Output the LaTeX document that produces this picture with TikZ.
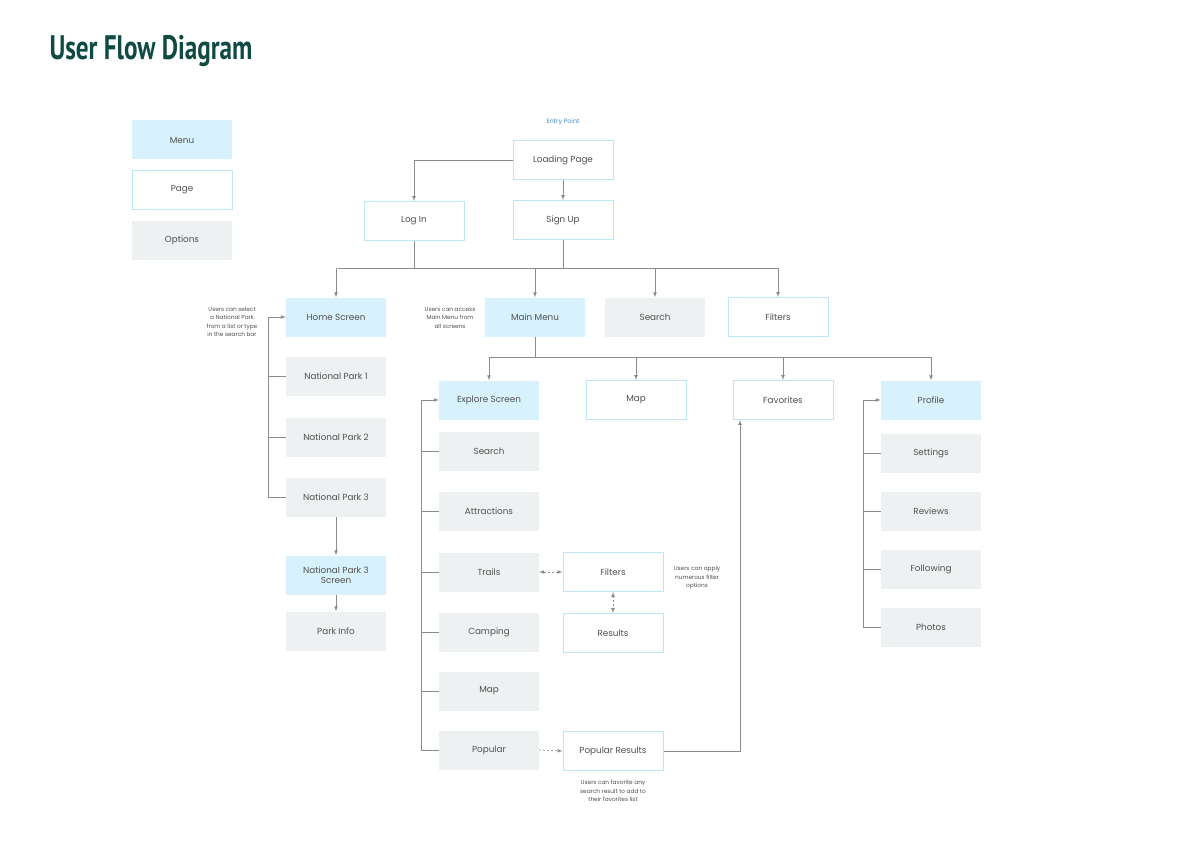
\documentclass[tikz,border=0pt]{standalone}
\usepackage{fontspec}
\setmainfont{Poppins}
\newfontfamily\titlefont{PT Sans}
\usetikzlibrary{arrows}
\definecolor{menublue}{HTML}{D7F2FC}
\definecolor{pageline}{HTML}{BDE5F6}
\definecolor{optgray}{HTML}{EEF1F2}
\definecolor{linkgray}{HTML}{8C8C8C}
\definecolor{titleteal}{HTML}{0F4A43}
\definecolor{entryblue}{HTML}{3A8CC4}
\definecolor{txtgray}{HTML}{505050}

\begin{document}
\begin{tikzpicture}[x=1pt,y=-1pt,
    box/.style={minimum width=100pt,minimum height=39pt,inner sep=1pt,text=txtgray,
      font=\fontsize{8.8}{10.5}\selectfont,align=center},
    menubox/.style={box,fill=menublue},
    pagebox/.style={box,fill=white,draw=pageline,line width=1pt},
    optbox/.style={box,fill=optgray},
    note/.style={text=txtgray,font=\fontsize{5.8}{8.4}\selectfont,align=center},
    link/.style={draw=linkgray,line width=0.7pt},
    arr/.style={link,-latex},
    dasharr/.style={link,dash pattern=on 2pt off 2pt,-latex},
    dashboth/.style={link,dash pattern=on 2pt off 2pt,latex-latex}]
  \useasboundingbox[fill=white] (0,0) rectangle (1200,856);
  %% title and legend
  \node[anchor=west,text=titleteal,font=\titlefont\bfseries\fontsize{34}{36}\selectfont] (title) at (46,51) {\scalebox{0.74}[1]{User Flow Diagram}};
  \node[menubox] (lgmenu) at (182,140) {Menu};
  \node[pagebox] (lgpage) at (182,190) {Page};
  \node[optbox]  (lgopt)  at (182,240) {Options};
  %% entry
  \node[text=entryblue,font=\fontsize{6.3}{7}\selectfont] (entry) at (563,122) {Entry Point};
  \node[pagebox] (load)   at (563,160) {Loading Page};
  \node[pagebox] (login)  at (414,221) {Log In};
  \node[pagebox] (signup) at (563,220) {Sign Up};
  %% first level
  \node[menubox] (home)     at (336,317) {Home Screen};
  \node[menubox] (mainmenu) at (535,317) {Main Menu};
  \node[optbox]  (srch)     at (655,317) {Search};
  \node[pagebox] (filt)     at (778,317) {Filters};
  \node[note] (homenote) at (232,322) {Users can select\\a National Park\\from a list or type\\in the search bar};
  \node[note] (mainnote) at (450,318) {Users can access\\Main Menu from\\all screens};
  %% home branch
  \node[optbox]  (np1)    at (336,376) {National Park 1};
  \node[optbox]  (np2)    at (336,437) {National Park 2};
  \node[optbox]  (np3)    at (336,497) {National Park 3};
  \node[menubox] (np3scr) at (336,575) {National Park 3\\Screen};
  \node[optbox]  (info)   at (336,631) {Park Info};
  %% main menu branch
  \node[menubox] (explore) at (489,400) {Explore Screen};
  \node[pagebox] (map)     at (636,400) {Map};
  \node[pagebox] (fav)     at (783,400) {Favorites};
  \node[menubox] (profile) at (931,400) {Profile};
  %% explore options
  \node[optbox] (esrch)   at (489,451) {Search};
  \node[optbox] (attr)    at (489,511) {Attractions};
  \node[optbox] (trails)  at (489,572) {Trails};
  \node[optbox] (camp)    at (489,632) {Camping};
  \node[optbox] (emap)    at (489,691) {Map};
  \node[optbox] (popular) at (489,750) {Popular};
  \node[pagebox] (tfilt)  at (613,572) {Filters};
  \node[pagebox] (tres)   at (613,633) {Results};
  \node[pagebox] (popres) at (613,751) {Popular Results};
  \node[note] (filtnote) at (697,578) {Users can apply\\numerous filter\\options};
  \node[note] (popnote)  at (613,791) {Users can favorite any\\search result to add to\\their favorites list};
  %% profile options
  \node[optbox] (settings)  at (931,453) {Settings};
  \node[optbox] (reviews)   at (931,511) {Reviews};
  \node[optbox] (following) at (931,569) {Following};
  \node[optbox] (photos)    at (931,627) {Photos};

  %% connectors
  \coordinate (bus1) at (0,268);
  \coordinate (bus2) at (0,357);
  \coordinate (htrunk) at (268,317);
  \coordinate (etrunk) at (421,400);
  \coordinate (ptrunk) at (863,400);
  \coordinate (favin) at ([xshift=-43pt]fav.south);
  \draw[arr] (load.west) -| (login.north);
  \draw[arr] (load.south) -- (signup.north);
  \draw[link] (login.south) -- (login.south |- bus1);
  \draw[link] (signup.south) -- (signup.south |- bus1);
  \draw[link] ([xshift=2pt]home.north |- bus1) -- (filt.north |- bus1);
  \foreach \n in {home,mainmenu,srch,filt}
    \draw[arr] (\n.north |- bus1) -- (\n.north);
  \draw[link] (mainmenu.south) -- (mainmenu.south |- bus2);
  \draw[link] (explore.north |- bus2) -- (profile.north |- bus2);
  \foreach \n in {explore,map,fav,profile}
    \draw[arr] (\n.north |- bus2) -- (\n.north);
  % home tree
  \draw[arr] (htrunk) -- (home.west);
  \draw[link] (htrunk) |- (np3.west);
  \foreach \n in {np1,np2}
    \draw[link] (\n.west -| htrunk) -- (\n.west);
  \draw[arr] (np3.south) -- (np3scr.north);
  \draw[arr] (np3scr.south) -- (info.north);
  % explore tree
  \draw[arr] (etrunk) -- (explore.west);
  \draw[link] (etrunk) |- (popular.west);
  \foreach \n in {esrch,attr,trails,camp,emap}
    \draw[link] (\n.west -| etrunk) -- (\n.west);
  \draw[dashboth] (trails.east) -- (tfilt.west);
  \draw[dashboth] (tfilt.south) -- (tres.north);
  \draw[dasharr] (popular.east) -- (popres.west);
  \draw[arr] (popres.east) -| (favin);
  % profile tree
  \draw[arr] (ptrunk) -- (profile.west);
  \draw[link] (ptrunk) |- (photos.west);
  \foreach \n in {settings,reviews,following}
    \draw[link] (\n.west -| ptrunk) -- (\n.west);
\end{tikzpicture}
\end{document}
